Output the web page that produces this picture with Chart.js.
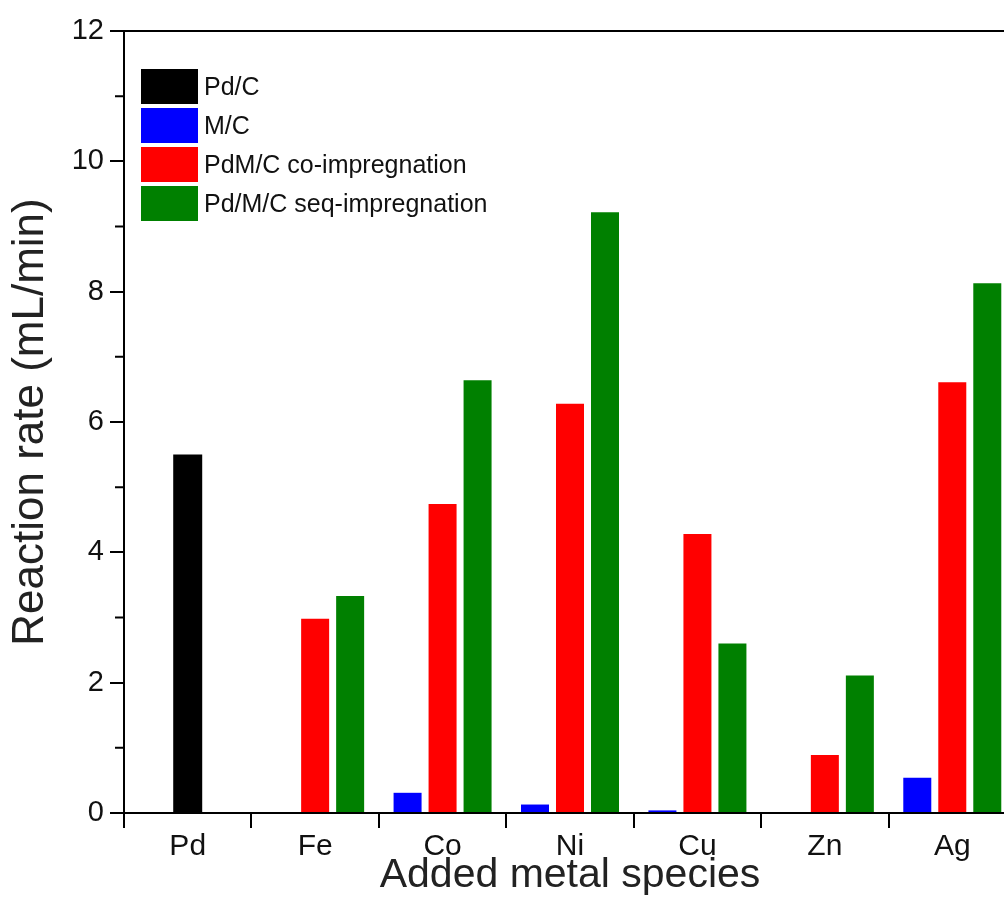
<!DOCTYPE html>
<html>
<head>
<meta charset="utf-8">
<title>Reaction rate by added metal</title>
<script src="https://cdn.jsdelivr.net/npm/chart.js@4.4.1/dist/chart.umd.min.js"></script>
<style>
  html, body { margin: 0; padding: 0; overflow: hidden; background: #fff; }
  #wrap { position: absolute; left: 0; top: 0; width: 1016px; height: 922px; }
  #legend { position: absolute; left: 141px; top: 69px; font-family: "Liberation Sans", Arial, sans-serif; }
  .legend-row { display: flex; align-items: center; height: 35px; margin-bottom: 4px; }
  .legend-box { width: 57px; height: 35px; }
  .legend-text { margin-left: 6px; font-size: 25px; color: #111; white-space: nowrap; }
</style>
</head>
<body>
<div id="wrap">
  <canvas id="rateChart"></canvas>
  <div id="legend"></div>
</div>
<script>
// Data
const categories = ["Pd", "Fe", "Co", "Ni", "Cu", "Zn", "Ag"];
const pdC = [5.5, null, null, null, null, null, null];
const mC = [null, 0, 0.31, 0.13, 0.04, 0, 0.54];
const coImpregnation = [null, 2.98, 4.74, 6.28, 4.28, 0.89, 6.61];
const seqImpregnation = [null, 3.33, 6.64, 9.22, 2.6, 2.11, 8.13];
const yMinorTicks = [1, 3, 5, 7, 9, 11];

Chart.defaults.font.family = "'Liberation Sans', Arial, sans-serif";
Chart.defaults.color = "#111";

// Top frame line and minor ticks on the y axis
const framePlugin = {
  id: "frame",
  afterDraw(chart) {
    const { ctx, chartArea, scales } = chart;
    ctx.save();
    ctx.strokeStyle = "#000";
    ctx.lineWidth = 2;
    ctx.beginPath();
    ctx.moveTo(chartArea.left - 1, chartArea.top);
    ctx.lineTo(chartArea.right, chartArea.top);
    yMinorTicks.forEach((v) => {
      const y = scales.y.getPixelForValue(v);
      ctx.moveTo(chartArea.left - 9, y);
      ctx.lineTo(chartArea.left, y);
    });
    ctx.stroke();
    ctx.restore();
  },
};

const ctx = document.getElementById("rateChart");
const chart = new Chart(ctx, {
  type: "bar",
  data: {
    labels: categories,
    datasets: [
      {
        label: "Pd/C",
        data: pdC,
        backgroundColor: "#000000",
        grouped: false,
        barPercentage: 1,
        maxBarThickness: 29,
      },
      {
        label: "M/C",
        data: mC,
        backgroundColor: "#0000ff",
      },
      {
        label: "PdM/C co-impregnation",
        data: coImpregnation,
        backgroundColor: "#ff0000",
      },
      {
        label: "Pd/M/C seq-impregnation",
        data: seqImpregnation,
        backgroundColor: "#008000",
      },
    ],
  },
  options: {
    responsive: true,
    maintainAspectRatio: false,
    animation: false,
    categoryPercentage: 0.824,
    barPercentage: 0.8,
    layout: { padding: { top: 31, right: 0, bottom: 0, left: 0 } },
    plugins: {
      legend: { display: false },
      tooltip: { enabled: false },
    },
    scales: {
      x: {
        grid: {
          offset: true,
          drawOnChartArea: false,
          color: "#000",
          lineWidth: 2,
          tickLength: 15,
        },
        border: { color: "#000", width: 2 },
        ticks: { font: { size: 30 }, padding: 1, color: "#111" },
        title: {
          display: true,
          text: "Added metal species",
          font: { size: 41 },
          color: "#222",
          padding: { top: 0, bottom: 22 },
        },
        afterFit: (scale) => {
          scale.height = 109;
        },
      },
      y: {
        min: 0,
        max: 12,
        ticks: { stepSize: 2, font: { size: 29 }, padding: 6, color: "#111" },
        grid: {
          drawOnChartArea: false,
          color: "#000",
          lineWidth: 2,
          tickLength: 14,
        },
        border: { color: "#000", width: 2 },
        title: {
          display: true,
          text: "Reaction rate (mL/min)",
          font: { size: 44 },
          color: "#222",
          padding: { top: 4, bottom: 0 },
        },
        afterFit: (scale) => {
          scale.width = 124;
        },
      },
    },
  },
  plugins: [framePlugin],
});

// HTML legend built from the datasets
const legendEl = document.getElementById("legend");
chart.data.datasets.forEach((ds) => {
  const row = `
    <div class="legend-row">
      <div class="legend-box" style="background:${ds.backgroundColor}"></div>
      <div class="legend-text">${ds.label}</div>
    </div>`;
  legendEl.innerHTML += row;
});
</script>
</body>
</html>
